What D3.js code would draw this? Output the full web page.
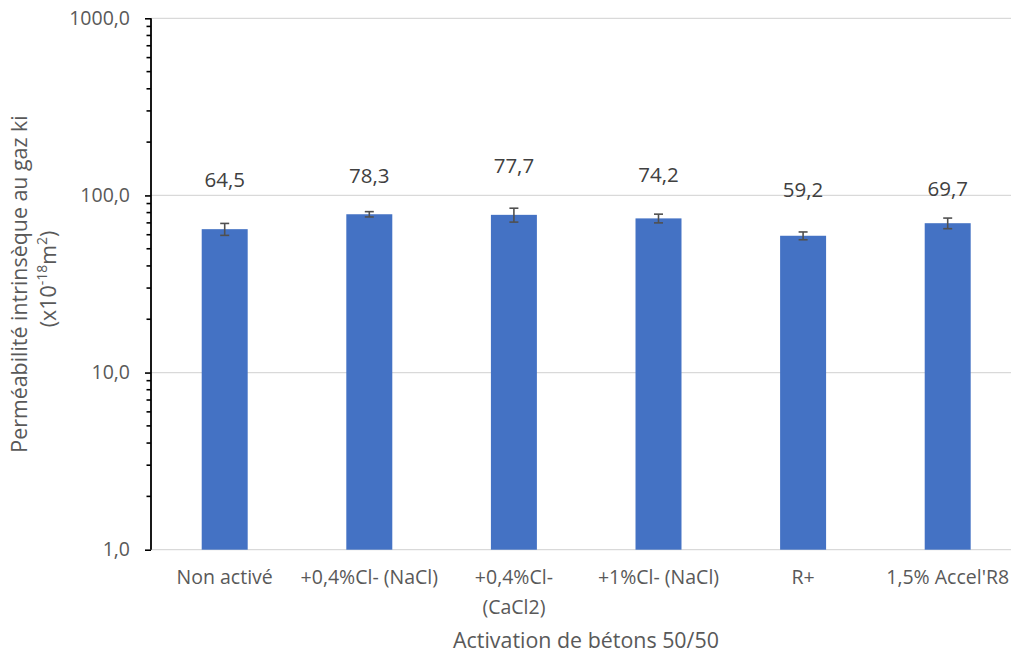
<!DOCTYPE html>
<html>
<head>
<meta charset="utf-8">
<script src="https://cdn.jsdelivr.net/npm/d3@7"></script>
<style>
  html, body { margin: 0; padding: 0; background: #fff; }
  svg { display: block; font-family: "Open Sans", "Noto Sans", sans-serif; }
</style>
</head>
<body>
<svg id="chart" width="1011" height="654"></svg>
<script>
// ---- data ----
const categories = ["Non activé", "+0,4%Cl- (NaCl)", "+0,4%Cl- (CaCl2)", "+1%Cl- (NaCl)", "R+", "1,5% Accel'R8"];
const values = [64.5, 78.3, 77.7, 74.2, 59.2, 69.7];
const errors = [5.0, 2.7, 7.0, 4.2, 3.0, 4.8];
const valueLabels = ["64,5", "78,3", "77,7", "74,2", "59,2", "69,7"];
const yTicks = [1, 10, 100, 1000];
const yTickLabels = ["1,0", "10,0", "100,0", "1000,0"];
const xTitle = "Activation de bétons 50/50";
const yTitleLine1 = "Perméabilité intrinsèque au gaz ki";

// ---- layout ----
const W = 1011, H = 654;
const plot = { left: 151, top: 18.3, bottom: 549.7 };
const bandStart = 152.4, step = 144.6;
const labelOffsets = [36, 29, 35, 32, 35, 22]; // manual label placement above error bar (px)
const textColor = "#595959";

const svg = d3.select("#chart");

const x = d3.scaleBand()
  .domain(categories)
  .range([bandStart, bandStart + step * categories.length])
  .paddingInner(0.682)
  .paddingOuter(0.341);

const y = d3.scaleLog().domain([1, 1000]).range([plot.bottom, plot.top]);
const plotRight = bandStart + step * categories.length;

// gridlines
svg.append("g").selectAll("line").data(yTicks).join("line")
  .attr("x1", plot.left).attr("x2", plotRight)
  .attr("y1", d => y(d)).attr("y2", d => y(d))
  .attr("stroke", "#d9d9d9").attr("stroke-width", 1.3);

// bars
svg.append("g").selectAll("rect").data(values).join("rect")
  .attr("x", (d, i) => x(categories[i]))
  .attr("width", x.bandwidth())
  .attr("y", d => y(d))
  .attr("height", d => y(1) - y(d))
  .attr("fill", "#4472c4");

// error bars
const eb = svg.append("g").attr("stroke", "#505050").attr("stroke-width", 1.6);
values.forEach((v, i) => {
  const cx = x(categories[i]) + x.bandwidth() / 2;
  const y1 = y(v + errors[i]), y2 = y(v - errors[i]);
  eb.append("line").attr("x1", cx).attr("x2", cx).attr("y1", y1).attr("y2", y2);
  eb.append("line").attr("x1", cx - 4.5).attr("x2", cx + 4.5).attr("y1", y1).attr("y2", y1);
  eb.append("line").attr("x1", cx - 4.5).attr("x2", cx + 4.5).attr("y1", y2).attr("y2", y2);
});

// value labels
svg.append("g").selectAll("text").data(values).join("text")
  .attr("x", (d, i) => x(categories[i]) + x.bandwidth() / 2)
  .attr("y", (d, i) => y(d + errors[i]) - labelOffsets[i])
  .attr("text-anchor", "middle")
  .attr("font-size", 20.5)
  .attr("fill", "#404040")
  .text((d, i) => valueLabels[i]);

// y axis major
const yAxis = d3.axisLeft(y)
  .tickValues(yTicks)
  .tickFormat((d, i) => yTickLabels[i])
  .tickSize(6).tickPadding(15);
const gy = svg.append("g").attr("transform", `translate(${plot.left},0)`).call(yAxis);
gy.select(".domain").attr("stroke", "#000").attr("stroke-width", 1.8).attr("d", `M0,${plot.top}V${plot.bottom}`);
gy.selectAll(".tick line").attr("stroke", "#000").attr("stroke-width", 1.6);
gy.selectAll(".tick text").attr("font-size", 19.5).attr("fill", textColor).attr("font-family", "Open Sans");

// y axis minor ticks
const minor = [];
for (let dec = 1; dec < 1000; dec *= 10) for (let k = 2; k <= 9; k++) minor.push(dec * k);
svg.append("g").selectAll("line").data(minor).join("line")
  .attr("x1", plot.left - 4.5).attr("x2", plot.left)
  .attr("y1", d => y(d)).attr("y2", d => y(d))
  .attr("stroke", "#000").attr("stroke-width", 1.6);

// x category labels (wrapped)
const xl = svg.append("g");
categories.forEach(c => {
  const cx = x(c) + x.bandwidth() / 2;
  const t = xl.append("text").attr("x", cx).attr("y", 584).attr("text-anchor", "middle")
    .attr("font-size", 19.5).attr("fill", textColor).text(c);
  if (t.node().getComputedTextLength() > 140) {
    const idx = c.lastIndexOf(" ");
    t.text(null);
    t.append("tspan").attr("x", cx).attr("dy", 0).text(c.slice(0, idx));
    t.append("tspan").attr("x", cx).attr("dy", 30).text(c.slice(idx + 1));
  }
});

// x title
svg.append("text").attr("x", 586).attr("y", 648).attr("text-anchor", "middle")
  .attr("font-size", 21.4).attr("fill", textColor).text(xTitle);

// y title
const yt = svg.append("g").attr("transform", "translate(0,284) rotate(-90)");
yt.append("text").attr("x", 0).attr("y", 27).attr("text-anchor", "middle")
  .attr("font-size", 21.4).attr("fill", textColor).text(yTitleLine1);
const t2 = yt.append("text").attr("x", 5).attr("y", 56).attr("text-anchor", "middle")
  .attr("font-size", 21.4).attr("fill", textColor);
t2.append("tspan").text("(x10");
t2.append("tspan").attr("font-size", 14).attr("dy", -9).text("-18");
t2.append("tspan").attr("dy", 9).text("m");
t2.append("tspan").attr("font-size", 14).attr("dy", -9).text("2");
t2.append("tspan").attr("dy", 9).text(")");
</script>
</body>
</html>
